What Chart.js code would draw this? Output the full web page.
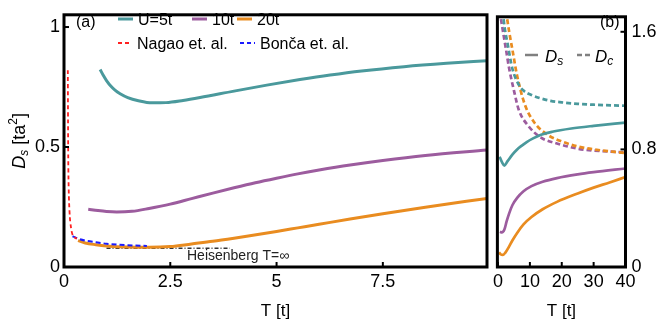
<!DOCTYPE html>
<html>
<head>
<meta charset="utf-8">
<script src="https://cdn.jsdelivr.net/npm/chart.js@4.4.1/dist/chart.umd.min.js"></script>
<style>
  body { margin: 0; background: #fff; width: 656px; height: 327px; overflow: hidden; position: relative; }
  canvas { position: absolute; top: 0; }
  #chartA { left: 0; }
  #chartB { left: 489px; }
</style>
</head>
<body>
<canvas id="chartA" width="489" height="327"></canvas>
<canvas id="chartB" width="167" height="327"></canvas>
<script>
const FONT = '"Liberation Sans", Arial, sans-serif';

// panel (a): D_s vs T
const aT5 = [0.85, 0.92, 1.0, 1.1, 1.2, 1.32, 1.5, 1.75, 2.07, 2.4, 2.8, 3.2, 4.0, 4.77, 5.55, 6.26, 7.0, 8.0, 9.0, 9.95];
const aD5 = [0.823, 0.8, 0.777, 0.754, 0.737, 0.722, 0.706, 0.693, 0.684, 0.685, 0.694, 0.706, 0.733, 0.758, 0.781, 0.8, 0.817, 0.835, 0.849, 0.86];
const aT10 = [0.57, 0.8, 1.0, 1.24, 1.6, 2.0, 2.5, 3.0, 3.5, 4.0, 4.5, 5.0, 5.5, 6.0, 6.73, 7.5, 8.5, 9.95];
const aD10 = [0.241, 0.235, 0.231, 0.229, 0.232, 0.244, 0.262, 0.285, 0.308, 0.33, 0.351, 0.37, 0.388, 0.404, 0.425, 0.444, 0.465, 0.488];
const aT20 = [0.33, 0.5, 0.75, 1.0, 1.5, 2.0, 2.5, 3.0, 3.5, 4.0, 5.0, 5.5, 6.0, 6.73, 7.5, 8.5, 9.95];
const aD20 = [0.11, 0.1, 0.093, 0.088, 0.083, 0.082, 0.085, 0.096, 0.107, 0.12, 0.148, 0.163, 0.178, 0.2, 0.222, 0.249, 0.286];
const nagaoT = [0.09, 0.095, 0.1, 0.11, 0.13, 0.16, 0.2, 0.26, 0.3];
const nagaoD = [0.82, 0.6, 0.45, 0.33, 0.23, 0.17, 0.135, 0.122, 0.118];
const boncaT = [0.2, 0.35, 0.5, 0.75, 1.0, 1.5, 1.95];
const boncaD = [0.128, 0.117, 0.11, 0.103, 0.097, 0.091, 0.088];
const heisT = [1.0, 3.9];
const heisD = [0.078, 0.078];

// panel (b): D_s (solid) and D_c (dashed) up to T=40
const bT5s = [0.5, 1.2, 2.0, 3.0, 4.5, 6.0, 7.5, 9.0, 11, 13.5, 17, 23, 30, 40];
const bD5s = [0.75, 0.715, 0.69, 0.72, 0.765, 0.8, 0.826, 0.85, 0.875, 0.9, 0.92, 0.942, 0.96, 0.982];
const bT10s = [0.6, 1.2, 2.0, 2.7, 3.5, 4.5, 6, 8, 10.5, 14, 18.5, 25, 30, 40];
const bD10s = [0.24, 0.235, 0.255, 0.31, 0.365, 0.42, 0.47, 0.515, 0.55, 0.58, 0.605, 0.63, 0.645, 0.67];
const bT20s = [0.3, 0.9, 1.5, 2.2, 3.5, 4.5, 6, 8, 10.5, 14, 18.5, 25, 30, 35, 40];
const bD20s = [0.1, 0.085, 0.082, 0.095, 0.14, 0.18, 0.232, 0.29, 0.34, 0.393, 0.443, 0.5, 0.54, 0.575, 0.612];
const bT5c = [1.5, 2, 3, 4.5, 6.5, 8, 10.5, 13, 16.5, 20, 25, 30, 40];
const bD5c = [1.74, 1.64, 1.52, 1.35, 1.24, 1.2, 1.17, 1.15, 1.13, 1.12, 1.11, 1.104, 1.097];
const bT10c = [0.5, 1.5, 2.5, 3.5, 5, 6.5, 9.5, 13.5, 18.5, 25, 30, 40];
const bD10c = [1.74, 1.61, 1.48, 1.35, 1.2, 1.07, 0.96, 0.88, 0.84, 0.805, 0.792, 0.78];
const bT20c = [2.5, 3.5, 4.5, 6, 8.5, 11.5, 15.5, 20.5, 25, 30, 40];
const bD20c = [1.74, 1.6, 1.48, 1.3, 1.1, 0.98, 0.9, 0.85, 0.82, 0.8, 0.775];

const aXTicks = [0, 2.5, 5, 7.5];
const aYTicks = [0, 0.5, 1];
const bXTicks = [0, 10, 20, 30, 40];
const bYTicks = [0, 0.8, 1.6];

const teal = '#4a999c', purple = '#9c5c9e', orange = '#e98c20';

function pts(xs, ys) {
  return xs.map((x, i) => ({ x: x, y: ys[i] }));
}

function line(label, xs, ys, color, width, dash) {
  return {
    label: label,
    data: pts(xs, ys),
    borderColor: color,
    borderWidth: width,
    borderDash: dash || [],
    pointRadius: 0,
    fill: false,
    cubicInterpolationMode: 'monotone'
  };
}

function axis(min, max, ticks, pos, size, pad) {
  return {
    type: 'linear',
    position: pos,
    min: min,
    max: max,
    grid: { display: false, drawTicks: false },
    border: { display: false },
    afterBuildTicks: s => { s.ticks = ticks.map(v => ({ value: v })); },
    afterFit: s => { if (pos === 'bottom') s.height = size; else s.width = size; },
    ticks: {
      font: { size: 18, family: FONT },
      color: '#000',
      padding: pad,
      maxRotation: 0,
      autoSkip: false,
      callback: v => String(v)
    }
  };
}

// text with sub/superscripts, parts = [text, size, italic, dy]
function rich(ctx, parts, x, y, align) {
  let w = 0;
  parts.forEach(p => {
    ctx.font = (p[2] ? 'italic ' : '') + p[1] + 'px ' + FONT;
    w += ctx.measureText(p[0]).width;
  });
  let cx = align === 'center' ? x - w / 2 : x;
  parts.forEach(p => {
    ctx.font = (p[2] ? 'italic ' : '') + p[1] + 'px ' + FONT;
    ctx.fillText(p[0], cx, y + (p[3] || 0));
    cx += ctx.measureText(p[0]).width;
  });
}

function sample(ctx, x1, x2, y, color, width, dash) {
  ctx.save();
  ctx.strokeStyle = color;
  ctx.lineWidth = width;
  ctx.setLineDash(dash || []);
  ctx.beginPath();
  ctx.moveTo(x1, y);
  ctx.lineTo(x2, y);
  ctx.stroke();
  ctx.restore();
}

// frame round the plot area and inward tick marks
const framePlugin = {
  id: 'frame',
  afterDatasetsDraw(chart) {
    const { ctx, chartArea: a, scales } = chart;
    ctx.save();
    ctx.strokeStyle = '#000';
    ctx.lineWidth = 2;
    scales.x.ticks.forEach(t => {
      const px = scales.x.getPixelForValue(t.value);
      ctx.beginPath(); ctx.moveTo(px, a.bottom); ctx.lineTo(px, a.bottom - 5); ctx.stroke();
    });
    const right = scales.y.position === 'right';
    const edge = right ? a.right : a.left;
    scales.y.ticks.forEach(t => {
      const py = scales.y.getPixelForValue(t.value);
      ctx.beginPath(); ctx.moveTo(edge, py); ctx.lineTo(edge + (right ? -5 : 5), py); ctx.stroke();
    });
    ctx.lineWidth = 3;
    ctx.strokeRect(a.left, a.top, a.right - a.left, a.bottom - a.top);
    ctx.restore();
  }
};

const textA = {
  id: 'textA',
  afterDraw(chart) {
    const ctx = chart.ctx;
    const ds = chart.data.datasets;
    const a = chart.chartArea;
    ctx.save();
    ctx.fillStyle = '#000';
    ctx.textBaseline = 'alphabetic';
    rich(ctx, [['(a)', 16]], 76, 27);
    const items = [
      [ds[2], 118, 133, 19], [ds[3], 192, 207, 19], [ds[4], 237, 252, 19],
      [ds[0], 118, 132, 43], [ds[1], 240, 255, 43]
    ];
    items.forEach(it => {
      const d = it[0];
      sample(ctx, it[1], it[2], it[3], d.borderColor, d.borderDash.length ? 2 : 3, d.borderDash.length ? [4, 3] : []);
      rich(ctx, [[d.label, 16]], it[2] + 5, it[3] + 5.5);
    });
    ctx.fillStyle = '#222';
    rich(ctx, [['Heisenberg T=\u221e', 14]], 187, 260);
    ctx.fillStyle = '#000';
    rich(ctx, [['T [t]', 17]], (a.left + a.right) / 2, 316, 'center');
    ctx.translate(25, (a.top + a.bottom) / 2);
    ctx.rotate(-Math.PI / 2);
    rich(ctx, [['D', 18, true], ['s', 12, true, 3], [' [ta', 18], ['2', 12, false, -8], [']', 18]], 0, 0, 'center');
    ctx.restore();
  }
};

const textB = {
  id: 'textB',
  afterDraw(chart) {
    const ctx = chart.ctx;
    const a = chart.chartArea;
    ctx.save();
    ctx.fillStyle = '#000';
    ctx.textBaseline = 'alphabetic';
    rich(ctx, [['(b)', 16]], 111, 27);
    sample(ctx, 36, 49, 55, '#808080', 2.5);
    rich(ctx, [['D', 17, true], ['s', 12, true, 3]], 56, 62);
    sample(ctx, 88, 101, 55, '#808080', 2.5, [5, 3]);
    rich(ctx, [['D', 17, true], ['c', 12, true, 3]], 106, 62);
    rich(ctx, [['T [t]', 17]], (a.left + a.right) / 2, 316, 'center');
    ctx.restore();
  }
};

const common = {
  responsive: false,
  animation: false,
  devicePixelRatio: 1,
  plugins: { legend: { display: false }, tooltip: { enabled: false } },
  elements: { line: { borderCapStyle: 'butt' } }
};

new Chart(document.getElementById('chartA'), {
  type: 'line',
  data: {
    datasets: [
      line('Nagao et. al.', nagaoT, nagaoD, '#ff2020', 1.8, [4, 3]),
      line('Bon\u010da et. al.', boncaT, boncaD, '#1a1aff', 2, [5, 3]),
      line('U=5t', aT5, aD5, teal, 3),
      line('10t', aT10, aD10, purple, 3),
      line('20t', aT20, aD20, orange, 3),
      line('Heisenberg', heisT, heisD, '#333', 1.5, [4, 2, 1, 2])
    ]
  },
  options: Object.assign({}, common, {
    layout: { padding: { left: 0, right: 2, top: 5, bottom: 0 } },
    scales: {
      x: axis(0, 9.95, aXTicks, 'bottom', 60, 4),
      y: axis(0, 1.051, aYTicks, 'left', 64, 4)
    }
  }),
  plugins: [framePlugin, textA]
});

new Chart(document.getElementById('chartB'), {
  type: 'line',
  data: {
    datasets: [
      line('U=5t Ds', bT5s, bD5s, teal, 2.7),
      line('U=5t Dc', bT5c, bD5c, teal, 2.7, [5, 3]),
      line('10t Ds', bT10s, bD10s, purple, 2.7),
      line('20t Ds', bT20s, bD20s, orange, 2.7),
      line('20t Dc', bT20c, bD20c, orange, 2.7, [5, 3]),
      line('10t Dc', bT10c, bD10c, purple, 2.7, [5, 3])
    ]
  },
  options: Object.assign({}, common, {
    layout: { padding: { left: 3, right: 0, top: 5, bottom: 0 } },
    scales: {
      x: axis(-0.2, 40, bXTicks, 'bottom', 60, 4),
      y: axis(0, 1.702, bYTicks, 'right', 30.5, 6)
    }
  }),
  plugins: [framePlugin, textB]
});
</script>
</body>
</html>
